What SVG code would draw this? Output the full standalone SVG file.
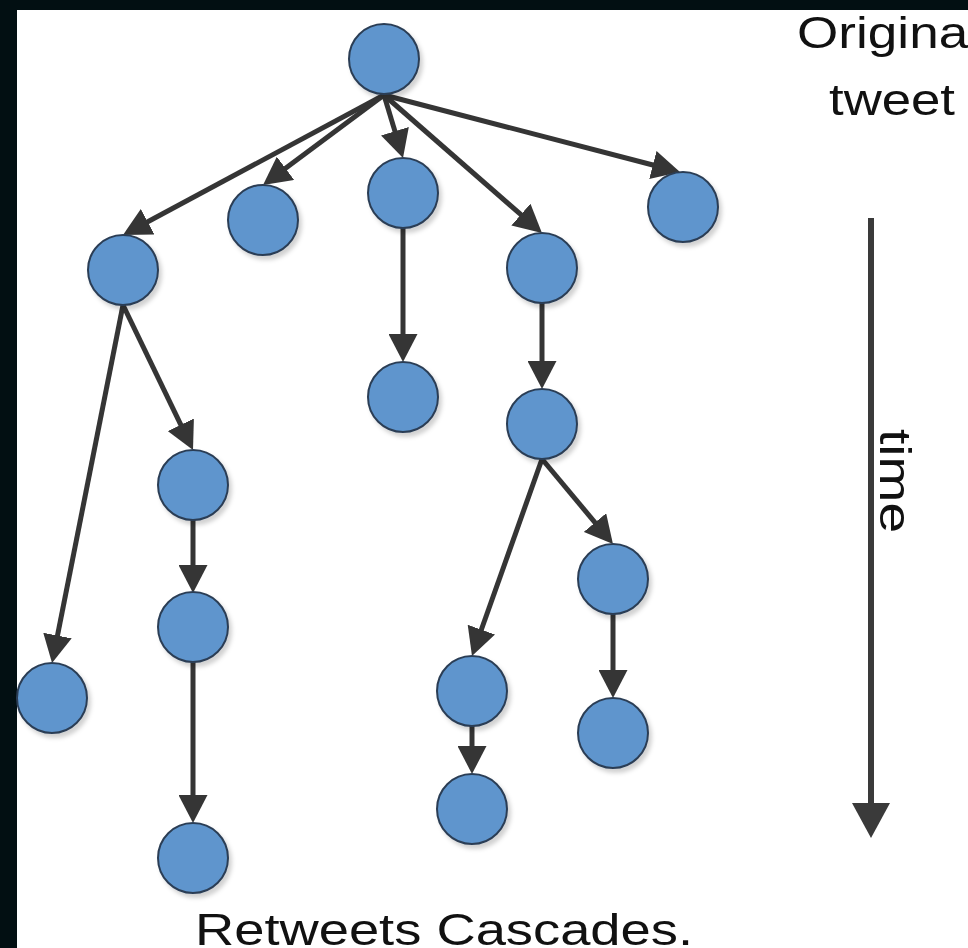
<svg xmlns="http://www.w3.org/2000/svg" width="968" height="948" viewBox="0 0 968 948">
<style>
.n{fill:#5e95cd;stroke:#2c3e55;stroke-width:2;filter:url(#sh)}
.e{stroke:#353535;stroke-width:5;fill:none;marker-end:url(#ah)}
.t{font-family:"Liberation Sans",Arial,sans-serif;font-size:45px;fill:#111}
</style>
<defs>
<filter id="sh" x="-30%" y="-30%" width="170%" height="170%">
<feDropShadow dx="3" dy="4" stdDeviation="2" flood-color="#000" flood-opacity="0.18"/>
</filter>
<marker id="ah" viewBox="0 0 28 29" refX="2" refY="14.5" markerWidth="28" markerHeight="29" markerUnits="userSpaceOnUse" orient="auto">
<path d="M0,0 L28,14.5 L0,29 Z" fill="#353535"/>
</marker>
</defs>
<rect x="0" y="0" width="968" height="948" fill="#ffffff"/>
<rect x="0" y="0" width="17" height="948" fill="#020f12"/>
<rect x="0" y="0" width="968" height="10" fill="#020f12"/>
<g id="connectors">
<line class="e" x1="384" y1="95" x2="145.9" y2="222.7"/>
<line class="e" x1="384" y1="95" x2="283.9" y2="169.5"/>
<line class="e" x1="384" y1="95" x2="395.5" y2="133.1"/>
<line class="e" x1="384" y1="95" x2="522.4" y2="215.9"/>
<line class="e" x1="384" y1="95" x2="654.8" y2="165.5"/>
<line class="e" x1="123" y1="305" x2="57.1" y2="637.5"/>
<line class="e" x1="123" y1="305" x2="181.7" y2="426.6"/>
<line class="e" x1="193" y1="520" x2="193" y2="567"/>
<line class="e" x1="193" y1="662" x2="193" y2="797"/>
<line class="e" x1="403" y1="228" x2="403" y2="336"/>
<line class="e" x1="542" y1="303" x2="542" y2="363"/>
<line class="e" x1="542" y1="459" x2="480.7" y2="631.5"/>
<line class="e" x1="542" y1="459" x2="596.3" y2="524.1"/>
<line class="e" x1="613" y1="614" x2="613" y2="672"/>
<line class="e" x1="472" y1="726" x2="472" y2="748"/>
</g>
<g id="n1"><circle class="n" cx="384" cy="59" r="35"/></g>
<g id="n2"><circle class="n" cx="123" cy="270" r="35"/></g>
<g id="n3"><circle class="n" cx="263" cy="220" r="35"/></g>
<g id="n4"><circle class="n" cx="403" cy="193" r="35"/></g>
<g id="n5"><circle class="n" cx="542" cy="268" r="35"/></g>
<g id="n6"><circle class="n" cx="683" cy="207" r="35"/></g>
<g id="n7"><circle class="n" cx="403" cy="397" r="35"/></g>
<g id="n8"><circle class="n" cx="542" cy="424" r="35"/></g>
<g id="n9"><circle class="n" cx="193" cy="485" r="35"/></g>
<g id="n10"><circle class="n" cx="193" cy="627" r="35"/></g>
<g id="n11"><circle class="n" cx="52" cy="698" r="35"/></g>
<g id="n12"><circle class="n" cx="193" cy="858" r="35"/></g>
<g id="n13"><circle class="n" cx="613" cy="579" r="35"/></g>
<g id="n14"><circle class="n" cx="472" cy="691" r="35"/></g>
<g id="n15"><circle class="n" cx="613" cy="733" r="35"/></g>
<g id="n16"><circle class="n" cx="472" cy="809" r="35"/></g>
<g id="time-axis">
<line x1="871" y1="218" x2="871" y2="806" stroke="#3a3a3a" stroke-width="6"/>
<polygon points="852,803 890,803 871,838" fill="#3a3a3a"/>
<text class="t" transform="translate(880,429) rotate(90)" textLength="104" lengthAdjust="spacingAndGlyphs">time</text>
</g>
<g id="labels">
<text class="t" x="797" y="48" textLength="183" lengthAdjust="spacingAndGlyphs">Original</text>
<text class="t" x="829" y="115" textLength="126" lengthAdjust="spacingAndGlyphs">tweet</text>
<text class="t" x="195" y="945" textLength="498" lengthAdjust="spacingAndGlyphs">Retweets Cascades.</text>
</g>
</svg>
